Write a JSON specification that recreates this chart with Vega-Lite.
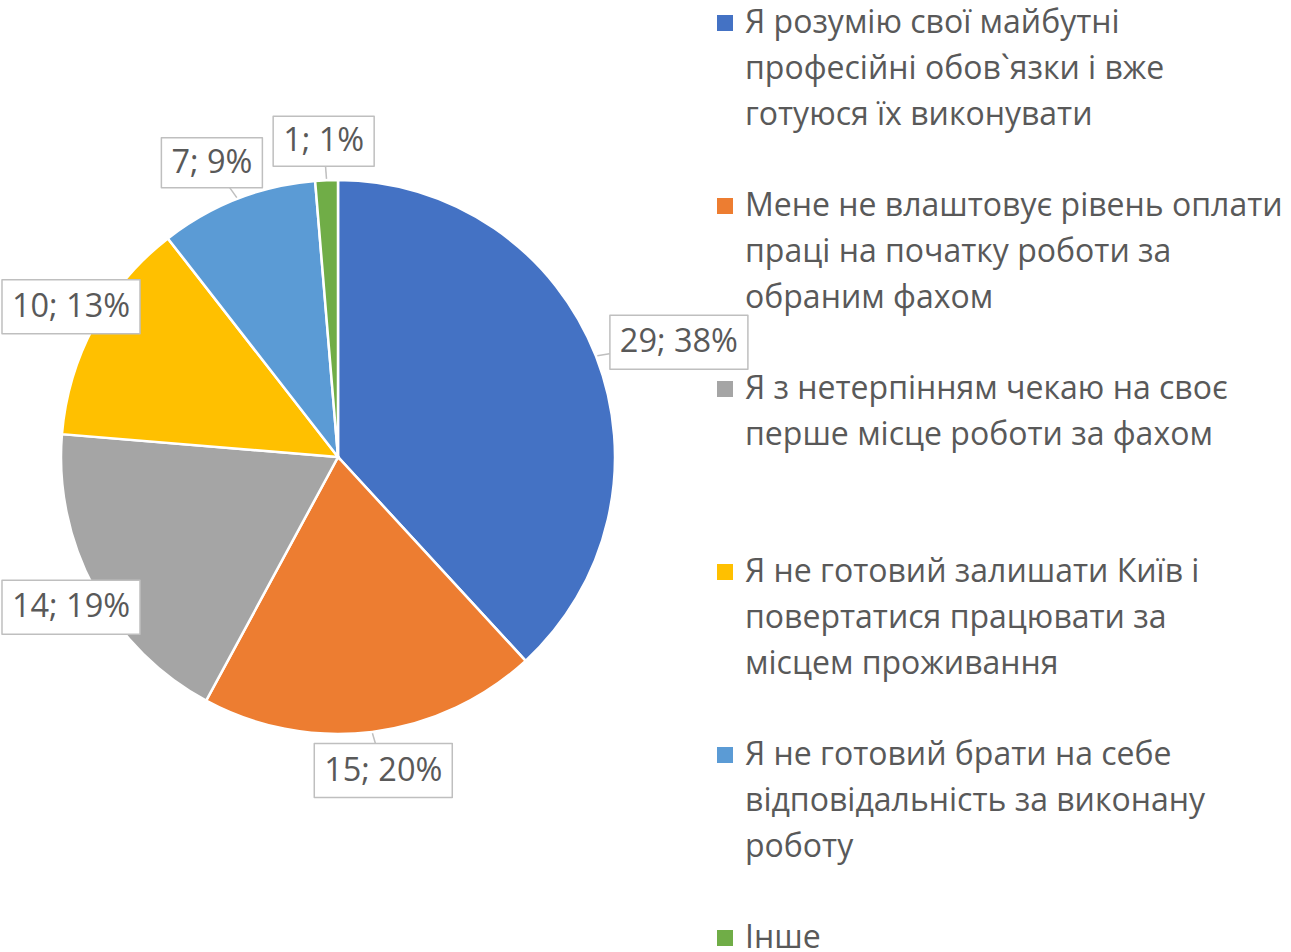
{
  "$schema": "https://vega.github.io/schema/vega-lite/v6.json",
  "width": 676,
  "height": 914,
  "padding": {"left": 0, "top": 0, "right": 0, "bottom": 0},
  "background": "white",
  "config": {
    "view": {"stroke": null},
    "style": {"guide-label": {"lineHeight": 46}}
  },
  "data": {
    "values": [
      {"idx": 1, "category": "Я розумію свої майбутні професійні обов`язки і вже готуюся їх виконувати", "value": 29, "pct": 38},
      {"idx": 2, "category": "Мене не влаштовує рівень оплати праці на початку роботи за обраним фахом", "value": 15, "pct": 20},
      {"idx": 3, "category": "Я з нетерпінням чекаю на своє перше місце роботи за фахом", "value": 14, "pct": 19},
      {"idx": 4, "category": "Я не готовий залишати Київ і повертатися працювати за місцем проживання", "value": 10, "pct": 13},
      {"idx": 5, "category": "Я не готовий брати на себе відповідальність за виконану роботу", "value": 7, "pct": 9},
      {"idx": 6, "category": "Інше", "value": 1, "pct": 1}
    ]
  },
  "layer": [
    {
      "mark": {"type": "arc", "outerRadius": 277, "stroke": "white", "strokeWidth": 2.5},
      "encoding": {
        "theta": {"field": "value", "type": "quantitative", "stack": true},
        "order": {"field": "idx", "type": "quantitative", "sort": "ascending"},
        "color": {
          "field": "category",
          "type": "nominal",
          "scale": {
            "domain": [
              "Я розумію свої майбутні професійні обов`язки і вже готуюся їх виконувати",
              "Мене не влаштовує рівень оплати праці на початку роботи за обраним фахом",
              "Я з нетерпінням чекаю на своє перше місце роботи за фахом",
              "Я не готовий залишати Київ і повертатися працювати за місцем проживання",
              "Я не готовий брати на себе відповідальність за виконану роботу",
              "Інше"
            ],
            "range": ["#4472C4", "#ED7D31", "#A5A5A5", "#FFC000", "#5B9BD5", "#70AD47"]
          },
          "legend": {
            "orient": "right",
            "offset": 26,
            "title": null,
            "padding": 7,
            "symbolType": "square",
            "symbolSize": 256,
            "symbolStrokeWidth": 0,
            "labelFont": "Open Sans",
            "labelFontSize": 32,
            "labelColor": "#595959",
            "labelLimit": 700,
            "labelOffset": 4,
            "gridAlign": "all",
            "rowPadding": 59,
            "labelExpr": "indexof(datum.label,'Я розумію')==0 ? ['Я розумію свої майбутні','професійні обов`язки і вже','готуюся їх виконувати'] : indexof(datum.label,'Мене')==0 ? ['Мене не влаштовує рівень оплати','праці на початку роботи за','обраним фахом'] : indexof(datum.label,'Я з')==0 ? ['Я з нетерпінням чекаю на своє','перше місце роботи за фахом'] : indexof(datum.label,'Я не готовий залишати')==0 ? ['Я не готовий залишати Київ і','повертатися працювати за','місцем проживання'] : indexof(datum.label,'Я не готовий брати')==0 ? ['Я не готовий брати на себе','відповідальність за виконану','роботу'] : datum.label"
          }
        }
      }
    },
    {
      "transform": [
        {"joinaggregate": [{"op": "sum", "field": "value", "as": "total"}]},
        {"window": [{"op": "sum", "field": "value", "as": "cum"}], "sort": [{"field": "idx", "order": "ascending"}], "frame": [null, 0]},
        {"calculate": "datum.value + '; ' + datum.pct + '%'", "as": "label"},
        {"calculate": "2*PI*(datum.cum - datum.value/2)/datum.total", "as": "mid"},
        {"calculate": "(length(datum.label) > 5 ? 69 : 50)/277", "as": "hw"},
        {"calculate": "max(sin(datum.mid)*(1.007 + datum.hw + 18/277), -1.22022 + datum.hw + 2/277)", "as": "lx"},
        {"calculate": "cos(datum.mid)*(1.007 + 37/277)", "as": "ly"},
        {"calculate": "1.005*sin(datum.mid)", "as": "px"},
        {"calculate": "1.005*cos(datum.mid)", "as": "py"}
      ],
      "encoding": {
        "x": {"field": "lx", "type": "quantitative", "scale": {"domain": [-1.22022, 1.22022], "nice": false, "zero": false}, "axis": null},
        "y": {"field": "ly", "type": "quantitative", "scale": {"domain": [-1.64982, 1.64982], "nice": false, "zero": false}, "axis": null}
      },
      "layer": [
        {
          "mark": {"type": "rule", "stroke": "#BFBFBF", "strokeWidth": 1.5},
          "encoding": {
            "x2": {"field": "px"},
            "y2": {"field": "py"}
          }
        },
        {
          "transform": [{"filter": "length(datum.label) > 5"}],
          "mark": {"type": "point", "shape": "M-1,-0.3913H1V0.3913H-1Z", "size": 19044, "filled": true, "fill": "white", "stroke": "#BFBFBF", "strokeWidth": 1.5, "strokeJoin": "round", "opacity": 1}
        },
        {
          "transform": [{"filter": "length(datum.label) <= 5"}],
          "mark": {"type": "point", "shape": "M-1,-0.495H1V0.495H-1Z", "size": 10201, "filled": true, "fill": "white", "stroke": "#BFBFBF", "strokeWidth": 1.5, "strokeJoin": "round", "opacity": 1}
        },
        {
          "mark": {"type": "text", "font": "Open Sans", "fontSize": 32.5, "fill": "#595959", "align": "center", "baseline": "middle"},
          "encoding": {"text": {"field": "label", "type": "nominal"}}
        }
      ]
    }
  ]
}
